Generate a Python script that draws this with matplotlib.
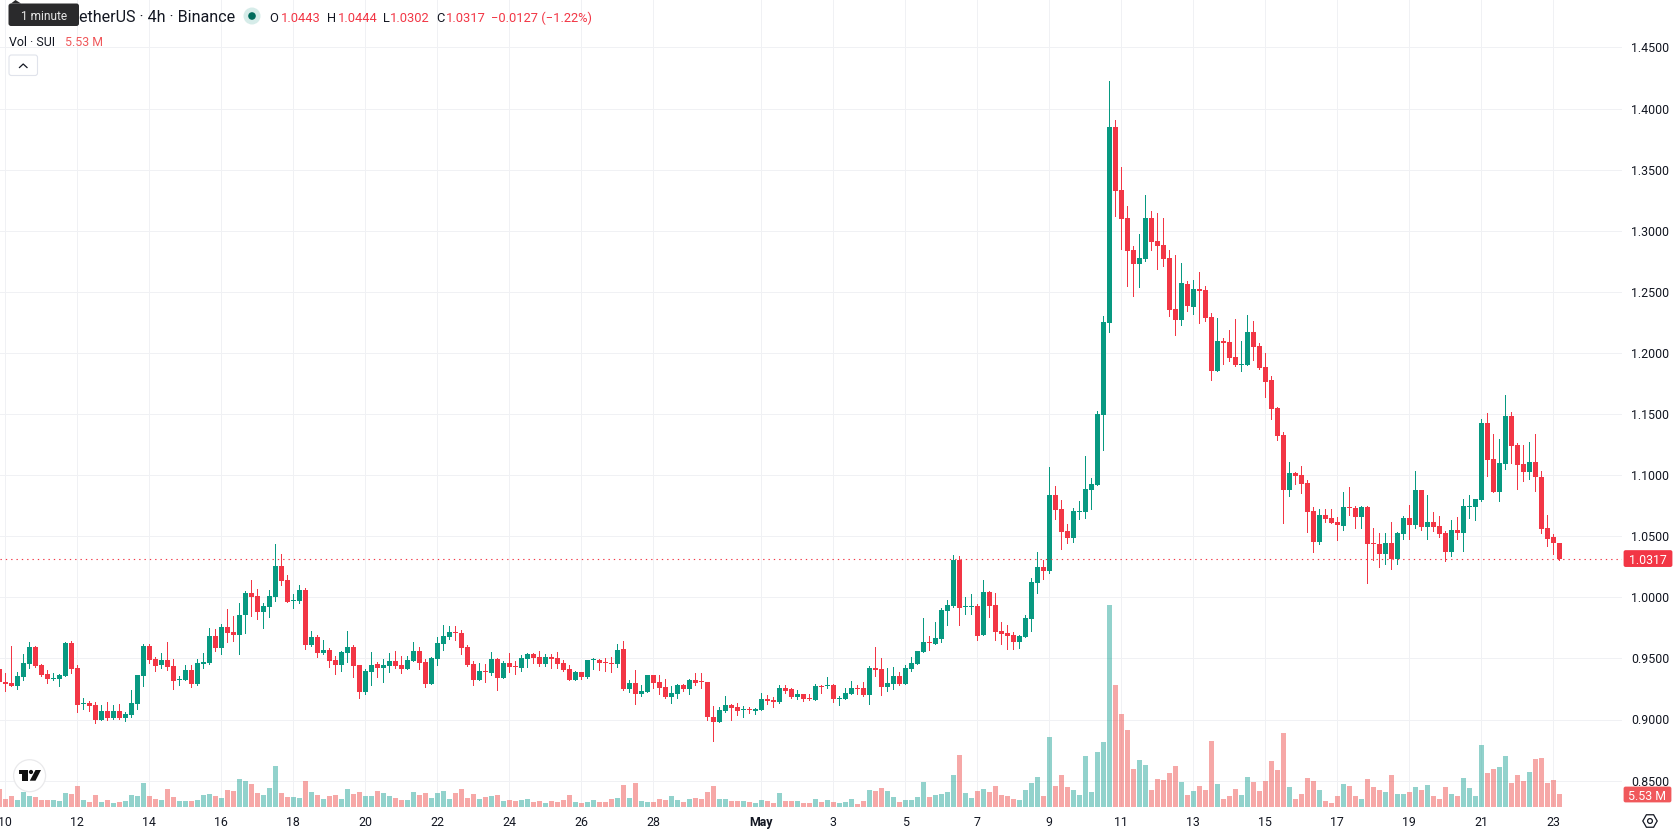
import math

import matplotlib
matplotlib.use("Agg")
import matplotlib.pyplot as plt
import pandas as pd
from matplotlib.patches import Circle, FancyBboxPatch, Polygon, RegularPolygon

# SUI / TetherUS, 4h candles on Binance
first_bar = "2025-04-09 20:00"

open_prices = [
    .9410, .9307, .9298, .9277, .9348, .9454, .9593, .9446, .9372, .9331,
    .9331, .9356, .9626, .9421, .9126, .9134, .9118, .8995, .9069, .9012,
    .9069, .9012, .9036, .9126, .9356, .9601, .9495, .9446, .9487, .9438,
    .9323, .9323, .9405, .9290, .9454, .9462, .9683, .9585, .9757, .9716,
    .9692, .9855, 1.0036, 1.0011, .9880, .9921, 1.0003, 1.0257, 1.0142, .9970,
    .9970, 1.0060, .9610, .9675, .9544, .9569, .9487, .9446, .9544, .9593,
    .9446, .9225, .9389, .9454, .9421, .9438, .9479, .9445, .9413, .9478,
    .9560, .9470, .9290, .9495, .9618, .9675, .9716, .9708, .9593, .9454,
    .9323, .9396, .9380, .9495, .9339, .9462, .9437, .9421, .9495, .9536,
    .9511, .9454, .9511, .9503, .9462, .9413, .9323, .9388, .9347, .9486,
    .9486, .9470, .9462, .9454, .9576, .9249, .9298, .9208, .9224, .9364,
    .9306, .9265, .9183, .9208, .9282, .9249, .9323, .9314, .9306, .9019,
    .8978, .9069, .9118, .9101, .9077, .9085, .9069, .9077, .9167, .9159,
    .9142, .9257, .9249, .9183, .9208, .9175, .9159, .9273, .9273, .9282,
    .9167, .9167, .9208, .9257, .9257, .9200, .9421, .9413, .9265, .9290,
    .9355, .9290, .9413, .9454, .9552, .9634, .9618, .9659, .9888, .9929,
    1.0306, .9921, .9921, .9929, .9692, 1.0044, .9937, .9724, .9708, .9692,
    .9634, .9675, .9823, 1.0117, 1.0248, 1.0216, 1.0838, 1.0723, 1.0543, 1.0486,
    1.0699, 1.0699, 1.0879, 1.0920, 1.1494, 1.2242, 1.3847, 1.3331, 1.3102, 1.2840,
    1.2725, 1.2766, 1.3102, 1.2913, 1.2881, 1.2774, 1.2357, 1.2267, 1.2561, 1.2373,
    1.2520, 1.2512, 1.2291, 1.1849, 1.2095, 1.2086, 1.1963, 1.1898, 1.1898, 1.2168,
    1.2053, 1.1881, 1.1778, 1.1549, 1.1328, 1.0877, 1.1016, 1.1000, 1.0935, 1.0705,
    1.0451, 1.0672, 1.0648, 1.0615, 1.0582, 1.0738, 1.0730, 1.0656, 1.0738, 1.0443,
    1.0435, 1.0353, 1.0443, 1.0312, 1.0517, 1.0648, 1.0591, 1.0877, 1.0574, 1.0615,
    1.0582, 1.0525, 1.0369, 1.0550, 1.0525, 1.0738, 1.0738, 1.0795, 1.1426, 1.1131,
    1.0861, 1.1090, 1.1483, 1.1246, 1.1090, 1.1025, 1.1107, 1.0984, 1.0566, 1.0492,
    1.0443,
]

close_prices = [
    .9309, .9290, .9277, .9356, .9462, .9593, .9438, .9364, .9331, .9339,
    .9364, .9626, .9413, .9118, .9134, .9110, .8995, .9069, .9012, .9069,
    .9012, .9045, .9135, .9364, .9601, .9487, .9438, .9487, .9429, .9315,
    .9331, .9405, .9290, .9462, .9470, .9683, .9585, .9757, .9708, .9692,
    .9855, 1.0036, 1.0003, .9880, .9929, 1.0011, 1.0257, 1.0134, .9962, .9978,
    1.0060, .9610, .9675, .9544, .9569, .9479, .9446, .9552, .9593, .9438,
    .9225, .9397, .9446, .9421, .9446, .9479, .9438, .9413, .9486, .9560,
    .9462, .9290, .9503, .9626, .9683, .9716, .9708, .9585, .9445, .9323,
    .9396, .9388, .9495, .9339, .9462, .9429, .9429, .9503, .9536, .9503,
    .9454, .9511, .9495, .9454, .9405, .9323, .9388, .9347, .9486, .9495,
    .9462, .9462, .9454, .9568, .9249, .9298, .9208, .9233, .9364, .9298,
    .9257, .9183, .9216, .9282, .9249, .9323, .9298, .9306, .9019, .8978,
    .9077, .9118, .9093, .9069, .9085, .9077, .9085, .9167, .9151, .9142,
    .9257, .9233, .9183, .9208, .9167, .9167, .9273, .9265, .9282, .9167,
    .9175, .9216, .9257, .9249, .9200, .9421, .9405, .9265, .9298, .9355,
    .9290, .9421, .9462, .9560, .9634, .9626, .9667, .9896, .9937, 1.0306,
    .9913, .9929, .9929, .9683, 1.0044, .9929, .9716, .9700, .9683, .9634,
    .9683, .9831, 1.0126, 1.0248, 1.0216, 1.0838, 1.0715, 1.0535, 1.0486, 1.0707,
    1.0707, 1.0887, 1.0928, 1.1502, 1.2255, 1.3847, 1.3323, 1.3094, 1.2832, 1.2725,
    1.2774, 1.3102, 1.2905, 1.2873, 1.2766, 1.2348, 1.2267, 1.2570, 1.2381, 1.2520,
    1.2504, 1.2283, 1.1849, 1.2095, 1.2078, 1.1955, 1.1898, 1.1906, 1.2168, 1.2045,
    1.1873, 1.1759, 1.1541, 1.1319, 1.0877, 1.1016, 1.0992, 1.0926, 1.0697, 1.0451,
    1.0672, 1.0640, 1.0607, 1.0591, 1.0738, 1.0730, 1.0656, 1.0738, 1.0435, 1.0435,
    1.0353, 1.0443, 1.0312, 1.0525, 1.0648, 1.0591, 1.0877, 1.0574, 1.0615, 1.0574,
    1.0517, 1.0369, 1.0550, 1.0525, 1.0746, 1.0746, 1.0803, 1.1426, 1.1123, 1.0861,
    1.1098, 1.1483, 1.1238, 1.1082, 1.1025, 1.1107, 1.0984, 1.0558, 1.0476, 1.0443,
    1.0317,
]

high_prices = [
    .9425, .9378, .9601, .9389, .9536, .9634, .9601, .9454, .9405, .9380,
    .9372, .9634, .9642, .9446, .9176, .9151, .9143, .9118, .9143, .9118,
    .9126, .9061, .9241, .9364, .9618, .9618, .9511, .9544, .9634, .9495,
    .9356, .9446, .9446, .9495, .9544, .9749, .9741, .9782, .9905, .9847,
    .9954, 1.0052, 1.0142, 1.0068, .9954, 1.0060, 1.0437, 1.0355, 1.0183, 1.0027,
    1.0101, 1.0076, .9724, .9692, .9651, .9585, .9520, .9561, .9724, .9610,
    .9446, .9413, .9552, .9470, .9495, .9544, .9561, .9519, .9519, .9634,
    .9593, .9495, .9511, .9675, .9773, .9765, .9765, .9732, .9609, .9478,
    .9462, .9454, .9552, .9503, .9478, .9544, .9478, .9527, .9544, .9544,
    .9560, .9536, .9536, .9552, .9486, .9445, .9396, .9388, .9486, .9503,
    .9495, .9503, .9511, .9618, .9642, .9323, .9405, .9282, .9364, .9364,
    .9364, .9331, .9273, .9290, .9290, .9331, .9380, .9380, .9306, .9110,
    .9101, .9192, .9126, .9134, .9110, .9101, .9093, .9216, .9200, .9183,
    .9282, .9282, .9257, .9241, .9208, .9208, .9290, .9282, .9347, .9290,
    .9192, .9257, .9315, .9282, .9306, .9437, .9593, .9503, .9421, .9429,
    .9388, .9445, .9511, .9560, .9831, .9683, .9798, .9913, .9978, 1.0347,
    1.0339, 1.0003, 1.0027, .9945, 1.0142, 1.0052, 1.0036, .9798, .9773, .9716,
    .9692, .9855, 1.0158, 1.0371, 1.0306, 1.1067, 1.0912, 1.0797, 1.0601, 1.0732,
    1.0789, 1.1158, 1.0977, 1.1526, 1.2305, 1.4224, 1.3904, 1.3520, 1.3200, 1.2873,
    1.2971, 1.3290, 1.3159, 1.3143, 1.3102, 1.2840, 1.2799, 1.2733, 1.2586, 1.2594,
    1.2660, 1.2545, 1.2324, 1.2283, 1.2119, 1.2185, 1.2275, 1.2095, 1.2307, 1.2258,
    1.2078, 1.1996, 1.1811, 1.1557, 1.1352, 1.1107, 1.1025, 1.1074, 1.0959, 1.0738,
    1.0722, 1.0722, 1.0722, 1.0656, 1.0861, 1.0902, 1.0746, 1.0746, 1.0746, 1.0566,
    1.0525, 1.0525, 1.0615, 1.0533, 1.0664, 1.0754, 1.1033, 1.0877, 1.0836, 1.0697,
    1.0664, 1.0541, 1.0631, 1.0656, 1.0803, 1.0836, 1.0803, 1.1459, 1.1508, 1.1336,
    1.1295, 1.1655, 1.1516, 1.1262, 1.1246, 1.1270, 1.1336, 1.1033, 1.0672, 1.0517,
    1.0444,
]

low_prices = [
    .9275, .9236, .9277, .9252, .9323, .9421, .9429, .9356, .9298, .9323,
    .9274, .9356, .9380, .9061, .9085, .9069, .8971, .8995, .8995, .9004,
    .9004, .8987, .9020, .9085, .9274, .9462, .9397, .9421, .9405, .9249,
    .9282, .9323, .9266, .9282, .9421, .9454, .9561, .9536, .9634, .9642,
    .9536, .9708, .9847, .9823, .9749, .9839, .9970, 1.0101, .9962, .9913,
    .9954, .9577, .9601, .9511, .9536, .9429, .9372, .9397, .9470, .9348,
    .9176, .9208, .9282, .9348, .9307, .9389, .9421, .9380, .9413, .9478,
    .9413, .9265, .9290, .9445, .9568, .9658, .9650, .9536, .9437, .9282,
    .9323, .9306, .9364, .9241, .9339, .9388, .9372, .9396, .9429, .9462,
    .9437, .9437, .9421, .9421, .9396, .9323, .9323, .9331, .9339, .9413,
    .9405, .9396, .9388, .9429, .9241, .9224, .9126, .9192, .9224, .9257,
    .9208, .9175, .9134, .9175, .9233, .9208, .9282, .9257, .8995, .8823,
    .8978, .9060, .8995, .9036, .9019, .9052, .9044, .9077, .9126, .9101,
    .9134, .9216, .9175, .9167, .9151, .9159, .9159, .9216, .9257, .9142,
    .9118, .9167, .9208, .9208, .9192, .9126, .9355, .9200, .9233, .9249,
    .9282, .9290, .9396, .9454, .9552, .9569, .9618, .9634, .9773, .9921,
    .9773, .9864, .9864, .9651, .9692, .9839, .9651, .9618, .9577, .9577,
    .9585, .9675, .9724, 1.0036, 1.0150, 1.0199, 1.0642, 1.0396, 1.0445, 1.0453,
    1.0642, 1.0650, 1.0723, 1.0920, 1.1207, 1.2168, 1.3118, 1.2848, 1.2545, 1.2463,
    1.2537, 1.2750, 1.2840, 1.2684, 1.2709, 1.2299, 1.2144, 1.2226, 1.2340, 1.2316,
    1.2242, 1.2258, 1.1775, 1.1849, 1.1906, 1.1931, 1.1890, 1.1849, 1.1898, 1.1939,
    1.1865, 1.1636, 1.1461, 1.1287, 1.0607, 1.0828, 1.0926, 1.0853, 1.0533, 1.0369,
    1.0435, 1.0615, 1.0607, 1.0468, 1.0550, 1.0672, 1.0566, 1.0566, 1.0116, 1.0304,
    1.0246, 1.0271, 1.0230, 1.0271, 1.0476, 1.0476, 1.0566, 1.0550, 1.0476, 1.0541,
    1.0492, 1.0296, 1.0337, 1.0476, 1.0378, 1.0648, 1.0631, 1.0787, 1.0992, 1.0861,
    1.0787, 1.1049, 1.1098, 1.0885, 1.0951, 1.0967, 1.0869, 1.0525, 1.0419, 1.0353,
    1.0302,
]

# Traded volume, millions of SUI per bar
volumes = [
    7.66, 3.40, 4.68, 2.98, 6.38, 4.68, 4.25, 2.98, 2.98, 2.98,
    2.55, 5.96, 5.53, 8.93, 2.98, 2.13, 5.10, 2.13, 2.98, 1.70,
    2.13, 2.55, 5.10, 4.68, 10.2, 4.68, 3.40, 2.98, 7.66, 4.25,
    2.55, 2.55, 2.55, 2.98, 5.10, 5.53, 4.68, 3.83, 7.23, 6.81,
    11.9, 11.1, 9.78, 5.96, 5.10, 8.08, 17.4, 5.96, 4.25, 4.25,
    3.83, 11.1, 6.38, 5.10, 3.40, 4.68, 5.10, 3.40, 7.66, 5.53,
    6.38, 4.68, 4.68, 6.81, 5.96, 4.68, 3.83, 2.98, 2.98, 6.38,
    5.10, 5.96, 3.83, 5.96, 6.81, 3.40, 5.96, 7.66, 3.83, 5.53,
    3.40, 4.25, 4.68, 5.10, 2.55, 2.98, 2.55, 2.98, 3.40, 2.13,
    2.55, 1.70, 2.55, 2.13, 2.98, 5.10, 2.13, 1.70, 2.13, 2.98,
    2.13, 2.13, 3.40, 3.83, 9.36, 3.83, 10.2, 2.55, 2.13, 2.13,
    3.40, 2.98, 4.68, 2.98, 2.13, 3.40, 3.83, 3.40, 6.38, 8.93,
    3.40, 3.40, 2.55, 2.55, 2.55, 2.13, 1.70, 2.98, 2.55, 1.70,
    5.96, 2.55, 2.55, 2.55, 1.70, 1.70, 3.40, 2.13, 2.98, 2.13,
    1.70, 2.13, 3.40, 1.28, 2.55, 7.23, 6.81, 8.08, 6.81, 4.25,
    2.13, 2.98, 2.98, 4.25, 10.6, 4.25, 5.10, 5.53, 6.38, 13.6,
    22.1, 5.96, 3.83, 6.81, 7.66, 6.38, 8.93, 5.10, 4.68, 3.40,
    2.98, 7.23, 10.2, 12.8, 4.68, 29.8, 8.93, 13.6, 8.51, 7.23,
    5.10, 21.7, 6.38, 23.4, 27.7, 85.9, 51.9, 39.6, 32.8, 16.2,
    20.0, 17.9, 7.23, 11.9, 11.5, 14.5, 17.4, 10.6, 5.10, 6.81,
    8.93, 7.23, 28.1, 9.78, 3.40, 4.68, 7.66, 5.10, 12.8, 10.6,
    6.81, 11.1, 19.6, 15.7, 31.5, 8.51, 3.40, 5.53, 12.3, 11.1,
    7.23, 2.55, 1.70, 4.68, 9.78, 8.93, 4.68, 3.40, 11.9, 8.51,
    7.23, 6.38, 13.6, 5.53, 5.53, 6.38, 8.51, 7.23, 9.36, 4.68,
    3.40, 8.51, 5.53, 4.68, 12.3, 8.08, 4.68, 26.4, 14.5, 16.2,
    17.0, 21.7, 10.2, 13.6, 11.1, 14.9, 20.4, 20.8, 10.2, 11.5,
    5.53,
]

tick_dates = [
    "2025-04-10", "2025-04-12", "2025-04-14", "2025-04-16", "2025-04-18",
    "2025-04-20", "2025-04-22", "2025-04-24", "2025-04-26", "2025-04-28",
    "2025-05-01", "2025-05-03", "2025-05-05", "2025-05-07", "2025-05-09",
    "2025-05-11", "2025-05-13", "2025-05-15", "2025-05-17", "2025-05-19",
    "2025-05-21", "2025-05-23",
]
tick_labels = ["10", "12", "14", "16", "18", "20", "22", "24", "26", "28", "May",
               "3", "5", "7", "9", "11", "13", "15", "17", "19", "21", "23"]
price_levels = [1.45, 1.40, 1.35, 1.30, 1.25, 1.20, 1.15, 1.10, 1.05, 1.00, .95, .90, .85]
last_price = 1.0317

UP, DOWN = "#089981", "#F23645"
VOL_UP, VOL_DOWN = "#26A69A", "#EF5350"
GRID = "#F0F1F4"
INK = "#131722"
FONT = "Roboto"

W, H = 1678, 835
PANE_W, PANE_H = 1622, 807
PX_PER_BAR = 6.0
PX_PER_UNIT = 1222.0
PX_PER_MILLION = 1 / 0.4254

plt.rcParams["font.family"] = FONT
fig = plt.figure(figsize=(W / 100, H / 100), dpi=100, facecolor="white")
rect = [0, (H - PANE_H) / H, PANE_W / W, PANE_H / H]

dates = pd.date_range(first_bar, periods=len(close_prices), freq="4h")
xs = list(range(len(dates)))
tick_xs = [dates.get_loc(pd.Timestamp(d)) for d in tick_dates]

ax = fig.add_axes(rect, zorder=1)
ax.set_xlim((0 - 5.3) / PX_PER_BAR + 1, (PANE_W - 5.3) / PX_PER_BAR + 1)
ax.set_ylim(1 - (PANE_H - 597.3) / PX_PER_UNIT, 1 + 597.3 / PX_PER_UNIT)
ax.axis("off")

# Grid
ax.vlines(tick_xs, *ax.get_ylim(), color=GRID, lw=0.72, antialiased=False, zorder=1)
ax.hlines(price_levels, *ax.get_xlim(), color=GRID, lw=0.72, antialiased=False, zorder=1)

# Candles
colors = [UP if c >= o else DOWN for o, c in zip(open_prices, close_prices)]
ax.vlines(xs, low_prices, high_prices, colors=colors, lw=0.72, antialiased=False, zorder=2)
bottoms = [min(o, c) for o, c in zip(open_prices, close_prices)]
heights = [abs(o - c) for o, c in zip(open_prices, close_prices)]
ax.bar(xs, heights, bottom=bottoms, width=5 / PX_PER_BAR, color=colors, lw=0, zorder=3)

# Last price line
ax.axhline(last_price, color=DOWN, lw=0.8, dashes=(1.2, 3.6), zorder=4)

# Volume histogram
ax_vol = fig.add_axes(rect, zorder=2, sharex=ax)
ax_vol.patch.set_alpha(0)
ax_vol.set_ylim(0, PANE_H / PX_PER_MILLION)
ax_vol.axis("off")
vol_colors = [VOL_UP if c >= o else VOL_DOWN for o, c in zip(open_prices, close_prices)]
ax_vol.bar(xs, volumes, width=4.7 / PX_PER_BAR, color=vol_colors, alpha=0.5, lw=0)

# Interface chrome, placed in pixel units
ui = fig.add_axes([0, 0, 1, 1], zorder=3)
ui.set_xlim(0, W)
ui.set_ylim(H, 0)
ui.axis("off")
ui.patch.set_alpha(0)


def label(x, y, s, color=INK, size=8.9, ha="left", **kw):
    ui.text(x, y, s, color=color, fontsize=size, ha=ha, va="center_baseline", family=FONT, **kw)


# Price axis
for level in price_levels:
    label(1631, 597.3 + (1 - level) * PX_PER_UNIT, f"{level:.4f}")

tag_y = 597.3 + (1 - last_price) * PX_PER_UNIT
ui.add_patch(FancyBboxPatch((1624, tag_y - 8), 48, 16, boxstyle="round,pad=0.4,rounding_size=2",
                            fc=DOWN, ec="none"))
label(1648, tag_y, f"{last_price:.4f}", color="white", ha="center")
ui.add_patch(FancyBboxPatch((1624, 787), 47, 15, boxstyle="round,pad=0.4,rounding_size=2",
                            fc="#F0585B", ec="none"))
label(1647.5, 794.5, f"{volumes[-1]:.2f} M", color="white", ha="center")

# Time axis
for x, text in zip(tick_xs, tick_labels):
    px = 5.3 + (x - 1) * PX_PER_BAR
    label(px, 821, text, ha="center", fontweight="bold" if text == "May" else "normal")

# Header legend
label(79, 16.5, "etherUS · 4h · Binance", size=11.6)
ui.add_patch(Circle((252, 16), 8.5, fc="#D6ECE9", ec="none"))
ui.add_patch(Circle((252, 16), 3.8, fc="#006B5C", ec="none"))
for x, s, c in [(269, "O", INK), (281, f"{open_prices[-1]:.4f}", DOWN),
                (327, "H", INK), (338, f"{high_prices[-1]:.4f}", DOWN),
                (383, "L", INK), (390, f"{low_prices[-1]:.4f}", DOWN),
                (436, "C", INK), (446, f"{close_prices[-1]:.4f}", DOWN),
                (491, "\u22120.0127 (\u22121.22%)", DOWN)]:
    label(x, 16.5, s, color=c, size=9.3)
label(9, 41, "Vol · SUI", size=8.9)
label(65, 41, f"{volumes[-1]:.2f} M", color="#F0585B", size=8.9)

# Collapse button
ui.add_patch(FancyBboxPatch((9, 55), 28.5, 20.5, boxstyle="round,pad=0,rounding_size=2.5",
                            fc="white", ec="#E0E3EB", lw=0.8))
ui.plot([19.5, 23.2, 27], [67.5, 64, 67.5], color=INK, lw=0.9)

# Tooltip over the symbol name
ui.add_patch(Polygon([(11, 3.5), (15.5, 0), (21, 3.5)], fc="#2A2A2C", ec="none"))
ui.add_patch(FancyBboxPatch((8.5, 3.5), 70.5, 22.5, boxstyle="round,pad=0,rounding_size=2.5",
                            fc="#2A2A2C", ec="none"))
label(43.7, 15, "1 minute", color="#E8E8E8", ha="center", size=8.6)

# TradingView badge
ui.add_patch(Circle((29.6, 775.7), 16, fc="white", ec="#E9E9EB", lw=0.9))
ui.add_patch(Polygon([(18.6, 770), (27.8, 770), (27.8, 780.7), (22.2, 780.7), (22.2, 774.3), (18.6, 774.3)],
                     fc="#111111", ec="none"))
ui.add_patch(Circle((31, 772), 2.1, fc="#111111", ec="none"))
ui.add_patch(Polygon([(35.5, 770), (41, 770), (35.5, 780.7), (29.8, 780.7)], fc="#111111", ec="none"))

# Settings icon
ui.add_patch(RegularPolygon((1650, 821), 6, radius=7.2, orientation=math.pi / 6,
                            fc="none", ec=INK, lw=0.9))
ui.add_patch(Circle((1650, 821), 2.4, fc="none", ec=INK, lw=0.9))

fig.savefig("out.png", dpi=100, facecolor="white")
